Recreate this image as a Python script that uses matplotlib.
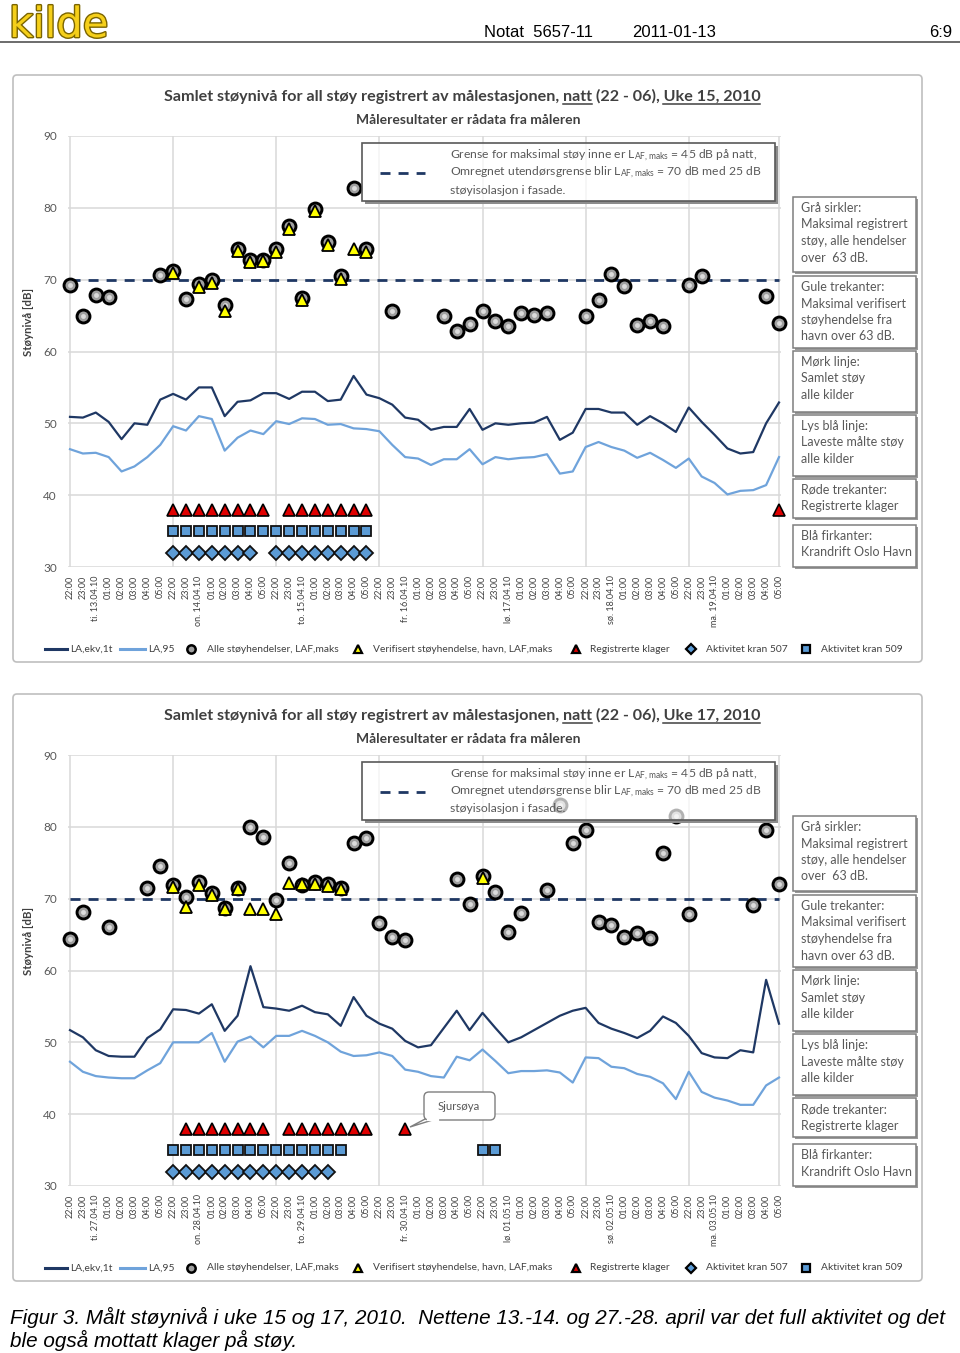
import numpy as np
import matplotlib
matplotlib.use("Agg")
import matplotlib.pyplot as plt
from matplotlib.patches import FancyBboxPatch, Rectangle, Polygon
import matplotlib.patheffects as pe

plt.rcParams["font.family"] = ["Lato", "DejaVu Sans"]
plt.rcParams["mathtext.default"] = "regular"

W, H = 960, 1353


# -----------------------------
# Data
# -----------------------------
HOURS = ["22:00", "23:00", "00:00", "01:00", "02:00", "03:00", "04:00", "05:00"]
W15_DATES = ["ti. 13.04.10", "on. 14.04.10", "to. 15.04.10", "fr. 16.04.10",
             "lø. 17.04.10", "sø. 18.04.10", "ma. 19.04.10"]
W17_DATES = ["ti. 27.04.10", "on. 28.04.10", "to. 29.04.10", "fr. 30.04.10",
             "lø. 01.05.10", "sø. 02.05.10", "ma. 03.05.10"]

# LA,ekv,1t (dark line)
W15_LAEQ = [50.9, 50.8, 51.5, 50.2, 47.8, 50.0, 49.8, 53.3,
            54.1, 53.3, 55.0, 55.0, 51.0, 53.0, 53.2, 54.2,
            54.2, 53.4, 54.4, 54.4, 53.1, 53.3, 56.6, 54.0,
            53.5, 52.6, 50.8, 50.5, 49.1, 49.5, 49.5, 52.0,
            49.1, 50.0, 49.8, 50.0, 50.1, 50.9, 47.7, 48.7,
            52.0, 52.0, 51.5, 51.5, 49.8, 51.0, 50.0, 48.8,
            52.2, 50.2, 48.4, 46.5, 45.8, 46.0, 50.0, 52.9]
# LA,95 (light line)
W15_LA95 = [46.4, 45.8, 45.9, 45.3, 43.3, 44.0, 45.3, 47.0,
            49.6, 49.0, 51.0, 50.6, 46.2, 48.0, 49.0, 48.5,
            50.3, 49.9, 50.7, 50.6, 49.8, 49.9, 49.3, 49.2,
            48.9, 47.0, 45.3, 45.1, 44.2, 45.0, 45.0, 46.4,
            44.3, 45.3, 45.0, 45.2, 45.3, 45.7, 43.0, 43.3,
            46.7, 47.4, 46.7, 46.2, 45.2, 45.9, 44.9, 43.8,
            45.1, 42.6, 41.7, 40.1, 40.6, 40.7, 41.4, 45.3]
# Alle støyhendelser, LAF,maks (grey circles)
W15_ALL_MAX = [69.3, 64.9, 67.8, 67.6, None, None, None, 70.7,
               71.2, 67.3, 69.4, 70.0, 66.5, 74.3, 72.8, 72.8,
               74.2, 77.5, 67.4, 79.9, 75.2, 70.5, 82.8, 74.2,
               None, 65.7, None, None, None, 65.0, 62.8, 63.8,
               65.6, 64.3, 63.5, 65.4, 65.1, 65.4, None, None,
               64.9, 67.1, 70.8, 69.1, 63.7, 64.2, 63.6, None,
               69.3, 70.5, None, None, None, None, 67.7, 64.0]
# Verifisert støyhendelse, havn (yellow triangles)
W15_VERIFIED = [None, None, None, None, None, None, None, None,
                70.9, None, 69.0, 69.5, 65.7, 74.0, 72.4, 72.6,
                73.9, 77.1, 67.1, 79.5, 74.8, 70.1, 74.2, 73.9,
                None, None, None, None, None, None, None, None,
                None, None, None, None, None, None, None, None,
                None, None, None, None, None, None, None, None,
                None, None, None, None, None, None, None, None]
W15_COMPLAINT_IDX = [8, 9, 10, 11, 12, 13, 14, 15, 17, 18, 19, 20, 21, 22, 23, 55]
W15_KRAN509_IDX = [8, 9, 10, 11, 12, 13, 14, 15, 16, 17, 18, 19, 20, 21, 22, 23]
W15_KRAN507_IDX = [8, 9, 10, 11, 12, 13, 14, 16, 17, 18, 19, 20, 21, 22, 23]

W17_LAEQ = [51.7, 50.7, 48.9, 48.1, 48.0, 48.0, 50.6, 51.8,
            54.6, 54.5, 54.0, 55.3, 51.6, 53.7, 60.6, 54.9,
            54.7, 54.4, 55.1, 54.2, 53.9, 52.3, 56.3, 53.7,
            52.6, 51.9, 50.2, 49.3, 49.6, 52.0, 54.4, 51.7,
            54.1, 52.0, 50.0, 50.7, 51.7, 52.7, 53.7, 54.4,
            54.8, 52.7, 51.9, 51.3, 50.6, 51.6, 53.6, 52.7,
            50.9, 48.5, 47.9, 47.8, 48.9, 48.6, 58.7, 52.6]
W17_LA95 = [47.3, 45.9, 45.3, 45.1, 45.0, 45.0, 46.1, 47.1,
            50.0, 50.0, 50.0, 51.3, 47.3, 50.1, 50.8, 49.3,
            50.9, 50.9, 51.6, 50.9, 50.0, 48.7, 48.1, 48.2,
            48.6, 48.1, 46.2, 45.9, 45.3, 45.1, 48.0, 47.5,
            49.0, 47.4, 45.7, 46.0, 46.0, 46.1, 45.8, 44.4,
            47.9, 47.8, 46.6, 46.4, 45.6, 45.2, 44.3, 42.1,
            45.9, 43.1, 42.3, 41.9, 41.3, 41.3, 44.0, 45.1]
W17_ALL_MAX = [64.4, 68.1, None, 66.0, None, None, 71.5, 74.5,
               71.9, 70.2, 72.3, 70.8, 68.7, 71.5, 80.0, 78.6,
               69.8, 75.0, 71.9, 72.3, 72.0, 71.5, 77.7, 78.4,
               66.6, 64.7, 64.3, None, None, None, 72.8, 69.2,
               73.1, 70.9, 65.4, 68.0, None, 71.2, 83.0, 77.8,
               79.5, 66.7, 66.4, 64.6, 65.2, 64.5, 76.4, 81.5,
               67.9, None, None, None, None, 69.1, 79.5, 72.0]
W17_VERIFIED = [None, None, None, None, None, None, None, None,
                71.6, 68.8, 71.9, 70.5, 68.6, 71.4, 68.5, 68.5,
                67.9, 72.2, 72.0, 72.1, 71.8, 71.4, None, None,
                None, None, None, None, None, None, None, None,
                72.9, None, None, None, None, None, None, None,
                None, None, None, None, None, None, None, None,
                None, None, None, None, None, None, None, None]
W17_COMPLAINT_IDX = [9, 10, 11, 12, 13, 14, 15, 17, 18, 19, 20, 21, 22, 23, 26]
W17_KRAN509_IDX = [8, 9, 10, 11, 12, 13, 14, 15, 16, 17, 18, 19, 20, 21, 32, 33]
W17_KRAN507_IDX = [8, 9, 10, 11, 12, 13, 14, 15, 16, 17, 18, 19, 20]

LIMIT_DB = 70
COMPLAINT_LEVEL = 38
KRAN509_LEVEL = 35
KRAN507_LEVEL = 32

SIDE_NOTES = [
    "Grå sirkler:\nMaksimal registrert\nstøy, alle hendelser\nover  63 dB.",
    "Gule trekanter:\nMaksimal verifisert\nstøyhendelse fra\nhavn over 63 dB.",
    "Mørk linje:\nSamlet støy\nalle kilder",
    "Lys blå linje:\nLaveste målte støy\nalle kilder",
    "Røde trekanter:\nRegistrerte klager",
    "Blå firkanter:\nKrandrift Oslo Havn",
]
SIDE_BOX_Y = [(197, 272), (276, 348), (351, 412), (415, 476), (479, 518), (525, 567)]

DARK = "#1F3864"
LIGHT = "#6FA3DB"
BLUE = "#5B9BD5"
GRID = "#D9D9D9"
TXT = "#404040"


def tick_labels(dates):
    labels = []
    for d in dates:
        for h in HOURS:
            labels.append(d if h == "00:00" else h)
    return labels


# -----------------------------
# Figure and page layer (pixel coordinates)
# -----------------------------
fig = plt.figure(figsize=(W / 100, H / 100), dpi=100)
page = fig.add_axes([0, 0, 1, 1])
page.set_xlim(0, W)
page.set_ylim(H, 0)
page.axis("off")
page.set_zorder(5)
renderer = fig.canvas.get_renderer()


def text_width(s, **kw):
    t = page.text(0, 0, s, **kw)
    w = t.get_window_extent(renderer).width
    t.remove()
    return w


# header
logo = page.text(9, 37, "kilde", fontsize=30, family="DejaVu Sans", color="#F5CF1A",
                 va="baseline", ha="left")
logo.set_path_effects([pe.withStroke(linewidth=2.0, foreground="#7A6400")])
page.text(484, 37, "Notat  5657-11", fontsize=12, family="Liberation Sans", va="baseline")
page.text(632, 37, "2011-01-13", fontsize=12, family="Liberation Sans", va="baseline")
page.text(952, 37, "6:9", fontsize=12, family="Liberation Sans", va="baseline", ha="right")
page.plot([0, 960], [41.5, 41.5], color="#606060", lw=1.3)

# caption
page.text(10, 1324, "Figur 3. Målt støynivå i uke 15 og 17, 2010.  Nettene 13.-14. og 27.-28. april "
          "var det full aktivitet og det", fontsize=14.9, family="Liberation Sans",
          style="italic", va="baseline")
page.text(10, 1347, "ble også mottatt klager på støy.", fontsize=14.9, family="Liberation Sans",
          style="italic", va="baseline")


# -----------------------------
# One chart
# -----------------------------
def draw_chart(off, week, dates, laeq, la95, all_max, verified,
               complaint_idx, kran509_idx, kran507_idx):
    labels = tick_labels(dates)
    x = np.arange(len(labels))

    ax = fig.add_axes([68 / W, 1 - (567 + off) / H, (781 - 68) / W, (567 - 136) / H])
    ax.set_xlim(-0.155, 55.155)
    ax.set_ylim(30, 90)
    for s in ax.spines.values():
        s.set_visible(False)
    ax.set_yticks(range(30, 91, 10))
    ax.grid(axis="y", color=GRID, lw=1.1)
    for gx in [0, 8, 16, 24, 32, 40, 48, 55]:
        ax.axvline(gx, color=GRID, lw=1.1, zorder=0.5)
    ax.set_axisbelow(True)
    ax.set_xticks(x)
    ax.set_xticklabels(labels, rotation=90, fontsize=6.5, color=TXT)
    ax.tick_params(axis="x", length=0, pad=6)
    ax.tick_params(axis="y", length=0, pad=8, labelsize=8.5, labelcolor="#595959")

    ax.plot(x, laeq, color=DARK, lw=1.6, zorder=2)
    ax.plot(x, la95, color=LIGHT, lw=1.6, zorder=2)
    ax.plot([0, 55], [LIMIT_DB, LIMIT_DB], color=DARK, lw=2, dashes=(3.6, 2.9), zorder=2)

    amax = np.array(all_max, dtype=float)
    ax.plot(x, amax, ls="none", marker="o", ms=9.3, mfc="#A0A0A0", mec="black", mew=2.1,
            zorder=3, clip_on=False)
    ax.plot(x, amax, ls="none", marker="o", ms=3.5, mfc="#DCDCDC", mec="none", zorder=3,
            clip_on=False)
    ax.plot(x, np.array(verified, dtype=float), ls="none", marker="^", ms=8.5,
            mfc="#FFFF00", mec="black", mew=1.3, zorder=4, clip_on=False)

    ax.plot(complaint_idx, [COMPLAINT_LEVEL] * len(complaint_idx), ls="none", marker="^",
            ms=9, mfc="#E00000", mec="black", mew=1.2, zorder=4, clip_on=False)
    ax.plot(kran509_idx, [KRAN509_LEVEL] * len(kran509_idx), ls="none", marker="s",
            ms=7.2, mfc=BLUE, mec="#111111", mew=1.3, zorder=4, clip_on=False)
    ax.plot(kran507_idx, [KRAN507_LEVEL] * len(kran507_idx), ls="none", marker="D",
            ms=7.5, mfc=BLUE, mec="#111111", mew=1.3, zorder=4, clip_on=False)

    # outer frame
    page.add_patch(FancyBboxPatch((13, 75 + off), 909, 587, boxstyle="round,pad=0,rounding_size=4",
                                  fc="none", ec="#BFBFBF", lw=1.2))

    # title with underlines
    title_kw = dict(fontsize=11.6, weight="bold", color=TXT)
    pre = "Samlet støynivå for all støy registrert av målestasjonen, "
    full = pre + "natt (22 - 06), " + f"Uke {week}, 2010"
    total = text_width(full, **title_kw)
    x0 = 462 - total / 2
    yb = 101 + off
    page.text(x0, yb, full, va="baseline", ha="left", **title_kw)
    for prefix, word in [(pre + "natt", "natt"), (full, f"Uke {week}, 2010")]:
        xe = x0 + text_width(prefix, **title_kw)
        xs = xe - text_width(word, **title_kw)
        page.plot([xs, xe], [yb + 2.5, yb + 2.5], color=TXT, lw=1.1)
    page.text(468, 120 + off, "Måleresultater er rådata fra måleren", fontsize=10,
              weight="bold", color=TXT, ha="center", va="center")

    # y label
    page.text(28, 322 + off, "Støynivå [dB]", rotation=90, fontsize=8.2, weight="bold",
              color=TXT, ha="center", va="center")

    # limit legend box (shadow strips on right and bottom)
    page.add_patch(Rectangle((775, 146 + off), 3, 58, fc="#8C8C8C", ec="none"))
    page.add_patch(Rectangle((365, 201 + off), 413, 3, fc="#8C8C8C", ec="none"))
    page.add_patch(Rectangle((362, 143 + off), 413, 58, fc=(1, 1, 1, 0.7), ec="#595959", lw=1.2))
    page.plot([380, 425], [173 + off, 173 + off], color=DARK, lw=2, dashes=(3.6, 2.9))
    box_lines = [
        "Grense for maksimal støy inne er L$_{AF,maks}$ = 45 dB på natt,",
        "Omregnet utendørsgrense blir L$_{AF,maks}$ = 70 dB med 25 dB",
        "støyisolasjon i fasade.",
    ]
    for k, line in enumerate(box_lines):
        page.text(450, 156 + 17 * k + off, line, fontsize=8.75, color="#595959", va="center")

    # side notes
    for note, (ya, yb2) in zip(SIDE_NOTES, SIDE_BOX_Y):
        page.add_patch(Rectangle((795, ya + 2 + off), 123, yb2 - ya, fc="#9A9A9A", ec="none"))
        page.add_patch(Rectangle((793, ya + off), 123, yb2 - ya, fc="white", ec="#7F7F7F", lw=1.1))
        page.text(801, ya + 5 + off, note, fontsize=9.0, color="#595959", va="top",
                  linespacing=1.45)

    # bottom legend
    ly = 649 + off
    leg_kw = dict(fontsize=7.4, color=TXT, va="center")
    page.plot([45, 67], [ly, ly], color=DARK, lw=2.2)
    page.text(70, ly, "LA,ekv,1t", **leg_kw)
    page.plot([120, 145], [ly, ly], color=LIGHT, lw=2.2)
    page.text(148, ly, "LA,95", **leg_kw)
    page.plot(191, ly, marker="o", ms=6, mfc="#A0A0A0", mec="black", mew=1.8)
    page.text(207, ly, "Alle støyhendelser, LAF,maks", **leg_kw)
    page.plot(358, ly, marker="^", ms=6, mfc="#FFFF00", mec="black", mew=1.6)
    page.text(373, ly, "Verifisert støyhendelse, havn, LAF,maks", **leg_kw)
    page.plot(576, ly, marker="^", ms=6, mfc="#E00000", mec="black", mew=1.6)
    page.text(590, ly, "Registrerte klager", **leg_kw)
    page.plot(691, ly, marker="D", ms=5, mfc=BLUE, mec="black", mew=1.6)
    page.text(706, ly, "Aktivitet kran 507", **leg_kw)
    page.plot(806, ly, marker="s", ms=5.5, mfc=BLUE, mec="black", mew=1.6)
    page.text(821, ly, "Aktivitet kran 509", **leg_kw)
    return ax


draw_chart(0, 15, W15_DATES, W15_LAEQ, W15_LA95, W15_ALL_MAX, W15_VERIFIED,
           W15_COMPLAINT_IDX, W15_KRAN509_IDX, W15_KRAN507_IDX)
draw_chart(619, 17, W17_DATES, W17_LAEQ, W17_LA95, W17_ALL_MAX, W17_VERIFIED,
           W17_COMPLAINT_IDX, W17_KRAN509_IDX, W17_KRAN507_IDX)

# callout "Sjursøya" in week 17
page.add_patch(Polygon([[427, 1118], [410, 1127], [439, 1118]], closed=True,
                       fc="white", ec="#7F7F7F", lw=1.0))
page.add_patch(FancyBboxPatch((424, 1092), 71, 28, boxstyle="round,pad=0,rounding_size=5",
                              fc="white", ec="#7F7F7F", lw=1.0))
page.plot([428, 438], [1120, 1120], color="white", lw=1.6)
page.text(459, 1106, "Sjursøya", fontsize=8.2, color="#595959", ha="center", va="center")

fig.savefig("out.png", dpi=100, facecolor="white")
